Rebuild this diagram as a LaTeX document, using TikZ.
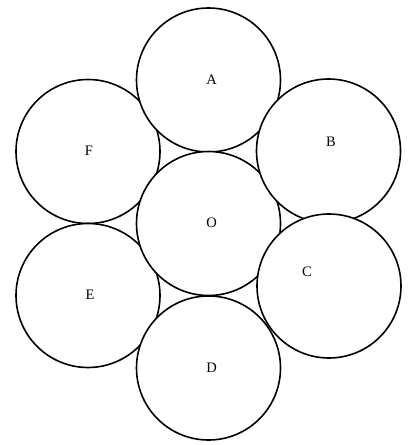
\documentclass[tikz,border=0pt]{standalone}
\usepackage{fontspec}
\setmainfont{Liberation Serif}
\usetikzlibrary{calc}

\tikzset{
    ring/.style={draw, fill=white, circle, line width=1.6pt, minimum size=144pt, inner sep=0pt},
    tag/.style={font=\fontsize{14.5}{17}\selectfont, inner sep=0pt}
}

\begin{document}
\begin{tikzpicture}[x=1pt, y=-1pt]
    \useasboundingbox (0,0) rectangle (413,445);
    % drawn back to front, each white disc hides what lies under it
    \node[ring] (F) at (88,151.5) {};
    \node[ring] (E) at (88,295.5) {};
    \node[ring] (A) at (208.5,80) {};
    \node[ring] (O) at (208.5,223.5) {};
    \node[ring] (B) at (328.5,151) {};
    \node[ring] (C) at (329,286) {};
    \node[ring] (D) at (208.5,368) {};
    \node[tag] (tA) at (211.5,79.5) {A};
    \node[tag] (tB) at (331,141.5) {B};
    \node[tag] (tC) at (307,271.5) {C};
    \node[tag] (tD) at (211.5,367.5) {D};
    \node[tag] (tE) at (90,295) {E};
    \node[tag] (tF) at (89,151) {F};
    \node[tag] (tO) at (211.5,223) {O};
\end{tikzpicture}
\end{document}
